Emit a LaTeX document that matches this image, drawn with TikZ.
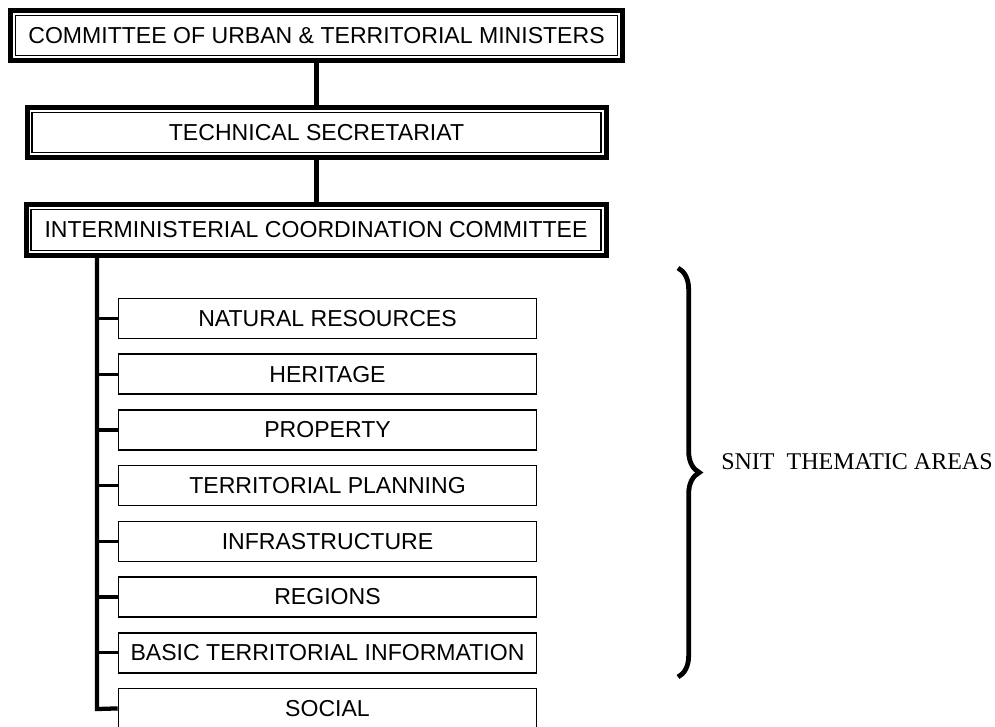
\documentclass[tikz,border=0pt]{standalone}
\usepackage{fontspec}
\setmainfont{Liberation Serif}
\setsansfont{Liberation Sans}
\usetikzlibrary{decorations.pathreplacing}
\begin{document}
\begin{tikzpicture}[x=0.75pt,y=-0.75pt,
	topbox/.style={draw,line width=3.75pt,inner sep=0pt,minimum height=37.5pt,font=\sffamily\fontsize{17.3}{20}\selectfont,
		path picture={\draw[line width=1pt] ([shift={(3.75pt,-3.75pt)}]path picture bounding box.north west) rectangle ([shift={(-3.75pt,3.75pt)}]path picture bounding box.south east);}},
	area/.style={draw,line width=1.2pt,inner sep=0pt,minimum width=313.5pt,minimum height=30pt,font=\sffamily\fontsize{17.3}{20}\selectfont},
	link/.style={line width=3.2pt}]
	\useasboundingbox (0,0) rectangle (995,726);
	
	\node[topbox,minimum width=458.6pt] (cum) at (316.5,35.75) {COMMITTEE OF URBAN \& TERRITORIAL MINISTERS};
	\node[topbox,minimum width=434.25pt] (sec) at (316.5,132.5) {TECHNICAL SECRETARIAT};
	\node[topbox,minimum width=435pt,minimum height=38.25pt] (icc) at (316,230) {INTERMINISTERIAL COORDINATION COMMITTEE};
	\draw[link] (cum.south) -- (cum.south |- sec.north);
	\draw[link] (sec.south) -- (sec.south |- icc.north);
	
	\foreach \nm/\txt [count=\i from 0] in {nat/NATURAL RESOURCES,her/HERITAGE,prop/PROPERTY,plan/TERRITORIAL PLANNING,infra/INFRASTRUCTURE,reg/REGIONS,basic/BASIC TERRITORIAL INFORMATION,social/SOCIAL}
		\node[area] (\nm) at (327.5,318.5+55.7*\i) {\txt};
	
	\coordinate (trunk) at (97,709);
	\draw[link] (icc.south -| trunk) -- (trunk) -- (social.west);
	\foreach \nm in {nat,her,prop,plan,infra,reg,basic}
		\draw[line width=2.5pt] (\nm.west -| trunk) -- (\nm.west);
	
	\draw[line width=3.6pt,decorate,decoration={brace,amplitude=16pt}] (678,268) -- (678,677);
	\node[anchor=west,inner sep=0pt,font=\fontsize{18}{20}\selectfont] (snit) at (721,461.5) {SNIT\ \ THEMATIC AREAS};
\end{tikzpicture}
\end{document}
